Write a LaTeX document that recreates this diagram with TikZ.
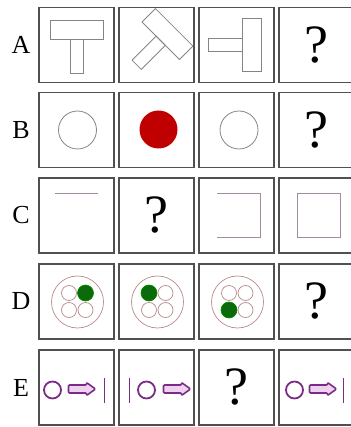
\documentclass[tikz,border=0pt]{standalone}
\usepackage{fontspec}
\setmainfont{Liberation Serif}
\usetikzlibrary{positioning}
\definecolor{frm}{HTML}{505050}
\definecolor{lin}{HTML}{858585}
\definecolor{rd}{HTML}{C00000}
\definecolor{mau}{HTML}{A08CA0}
\definecolor{rng}{HTML}{B88A8A}
\definecolor{grn}{HTML}{0B6B0B}
\definecolor{pur}{HTML}{7B2C86}
\definecolor{lav}{HTML}{EFD2EF}
\tikzset{
  cell/.style={draw=frm, line width=1.5pt, minimum width=75pt, minimum height=75pt, inner sep=0pt},
  qmark/.style={font=\fontsize{54}{54}\selectfont},
  lbl/.style={font=\fontsize{26}{26}\selectfont},
  thin line/.style={lin, line width=0.8pt},
  mline/.style={mau, line width=0.9pt},
  pline/.style={pur, line width=1.8pt},
  tee/.pic={\draw[thin line] (-26.5,-25) rectangle (26.5,-6);
            \draw[thin line] (-6.5,-6) rectangle (6.5,28);},
  rings/.pic={\draw[rng, line width=0.7pt] (1,0.5) circle (26pt);
              \draw[rng, line width=0.7pt] (-7.5,-8.5) circle (7.5pt) (9,-8.5) circle (7.5pt)
                                          (-7.5,8.5) circle (7.5pt) (9,8.5) circle (7.5pt);},
  pointer/.pic={\filldraw[pur, fill=lav, line width=1.6pt, line join=round, rounded corners=1pt]
                (0,-4) -- (18,-4) -- (18,-6.5) -- (27,0) -- (18,6.5) -- (18,4) -- (0,4) -- cycle;}}

\begin{document}
\begin{tikzpicture}[x=1pt, y=-1pt, node distance=3.5pt]
\useasboundingbox (0,0) rectangle (350,427);
% row A
\node[lbl] (la) at (21,45) {A};
\node[cell] (a1) at (76.5,45) {};
\node[cell, right=of a1] (a2) {};
\node[cell, right=of a2] (a3) {};
\node[cell, qmark, right=of a3] (a4) {?};
\pic at (a1.center) {tee};
\pic[rotate=-45] at (a2.center) {tee};
\pic[rotate=-90] at (a3.center) {tee};
% row B
\node[lbl] (lb) at (21,130) {B};
\node[cell] (b1) at (76.5,130) {};
\node[cell, right=of b1] (b2) {};
\node[cell, right=of b2] (b3) {};
\node[cell, qmark, right=of b3] (b4) {?};
\draw[thin line] ([shift={(1,0)}]b1.center) circle (19pt);
\fill[rd] ([shift={(2,-0.5)}]b2.center) circle (19pt);
\draw[thin line] ([shift={(2.5,0)}]b3.center) circle (19pt);
% row C
\node[lbl] (lc) at (21,215.5) {C};
\node[cell] (c1) at (76.5,215.5) {};
\node[cell, qmark, right=of c1] (c2) {?};
\node[cell, right=of c2] (c3) {};
\node[cell, right=of c3] (c4) {};
\draw[mline] ([shift={(-21.5,-22.5)}]c1.center) -- ([shift={(21.5,-22.5)}]c1.center);
\draw[mline] ([shift={(-19.5,-22.5)}]c3.center) -- ([shift={(24,-22.5)}]c3.center)
  -- ([shift={(24,21.5)}]c3.center) -- ([shift={(-19.5,21.5)}]c3.center);
\draw[mline] ([shift={(-19.5,-22.5)}]c4.center) rectangle ([shift={(24,21.5)}]c4.center);
% row D
\node[lbl] (ld) at (21,301.5) {D};
\node[cell] (d1) at (76.5,301.5) {};
\node[cell, right=of d1] (d2) {};
\node[cell, right=of d2] (d3) {};
\node[cell, qmark, right=of d3] (d4) {?};
\pic at (d1.center) {rings};
\pic at (d2.center) {rings};
\pic at (d3.center) {rings};
\filldraw[grn, draw=green!55!black, line width=0.6pt] ([shift={(9,-8.5)}]d1.center) circle (8pt);
\filldraw[grn, draw=green!55!black, line width=0.6pt] ([shift={(-7.5,-8.5)}]d2.center) circle (8pt);
\filldraw[grn, draw=green!55!black, line width=0.6pt] ([shift={(-7.5,8.5)}]d3.center) circle (8pt);
% row E
\node[lbl] (le) at (21,387.5) {E};
\node[cell] (e1) at (76.5,387.5) {};
\node[cell, right=of e1] (e2) {};
\node[cell, qmark, right=of e2] (e3) {?};
\node[cell, right=of e3] (e4) {};
\draw[pline] ([shift={(-24,2.5)}]e1.center) circle (8.5pt);
\pic at ([shift={(-8,1.5)}]e1.center) {pointer};
\draw[pline] ([shift={(28,-9.5)}]e1.center) -- ([shift={(28,15.5)}]e1.center);
\draw[pline] ([shift={(-27,-9.5)}]e2.center) -- ([shift={(-27,15.5)}]e2.center);
\draw[pline] ([shift={(-10,2.5)}]e2.center) circle (8.5pt);
\pic at ([shift={(7,1.5)}]e2.center) {pointer};
\draw[pline] ([shift={(-22,2.5)}]e4.center) circle (8.5pt);
\pic at ([shift={(-7,1.5)}]e4.center) {pointer};
\draw[pline] ([shift={(27,-9.5)}]e4.center) -- ([shift={(27,15.5)}]e4.center);
\end{tikzpicture}
\end{document}
